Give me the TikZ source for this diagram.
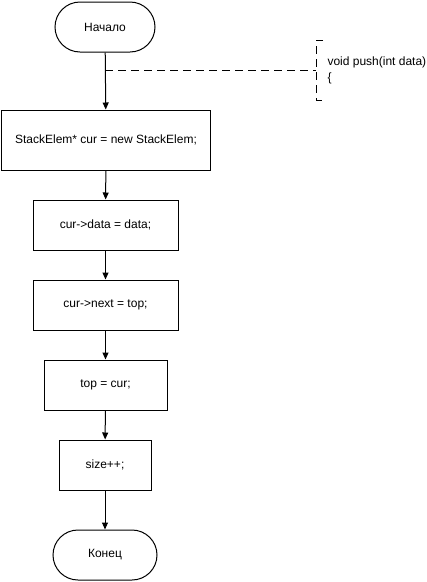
\documentclass[tikz,border=0pt]{standalone}
\usepackage{fontspec}
\setmainfont{Liberation Sans}
\usetikzlibrary{arrows.meta}

\begin{document}
\begin{tikzpicture}[x=1pt, y=-1pt, line width=1pt,
  font=\fontsize{12}{14}\selectfont,
  term/.style={draw, rectangle, rounded corners=25pt, minimum width=100pt, minimum height=50pt, inner sep=0pt},
  proc/.style={draw, rectangle, minimum height=50pt, inner sep=0pt},
  flow/.style={-{Triangle[length=7pt, width=6pt]}},
  note/.style={dash pattern=on 8pt off 5pt}]
\useasboundingbox (0, 0) rectangle (427, 582);
\node[term] (start) at (105, 27) {Начало};
\node[proc, minimum width=209pt, minimum height=60pt] (alloc) at (106, 140) {StackElem* cur = new StackElem;};
\node[proc, minimum width=145pt] (setdata) at (105.5, 225) {cur->data = data;};
\node[proc, minimum width=145pt] (setnext) at (105.5, 305) {cur->next = top;};
\node[proc, minimum width=123pt] (settop) at (105.5, 385) {top = cur;};
\node[proc, minimum width=92pt] (incsize) at (105, 465) {size++;};
\node[term, minimum width=104pt] (stop) at (105, 555) {Конец};
\draw[flow] (start) -- (alloc);
\draw[flow] (alloc) -- (setdata);
\draw[flow] (setdata) -- (setnext);
\draw[flow] (setnext) -- (settop);
\draw[flow] (settop) -- (incsize);
\draw[flow] (incsize) -- (stop);
% comment
\coordinate (tap) at (105, 70);
\coordinate (brace) at (316, 70);
\draw[note] (tap) -- (brace);
\draw[note] (323, 40) -- (316, 40) -- (316, 100) -- (323, 100);
\node[anchor=west, inner sep=0pt] (sig) at (327, 62) {void push(int data)};
\node[anchor=west, inner sep=0pt] (open) at (327, 78) {\{};
\end{tikzpicture}
\end{document}
